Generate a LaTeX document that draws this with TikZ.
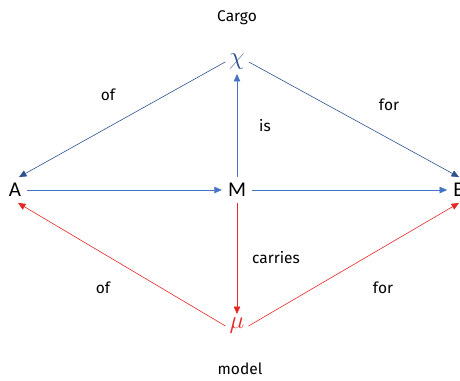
\documentclass[tikz,border=0pt]{standalone}
\usepackage{fontspec}
\setmainfont{Fira Sans}
\newfontfamily\letterfont{Carlito}
\usetikzlibrary{arrows.meta}
\definecolor{navyblue}{RGB}{47, 82, 143}
\definecolor{softblue}{RGB}{68, 114, 196}
\definecolor{modelred}{RGB}{232, 38, 38}

\begin{document}
\begin{tikzpicture}[x=1pt, y=1pt,
    letter/.style={font=\letterfont\fontsize{21}{25}\selectfont, inner sep=6pt},
    greek/.style={font=\fontsize{25}{30}\selectfont, inner sep=4pt},
    caption/.style={font=\fontsize{15.5}{18}\selectfont},
    link/.style={-{Triangle[length=7.5pt, width=6.5pt]}, line width=0.6pt}]
    \useasboundingbox (0, 0) rectangle (460, 380);

    % Vertices
    \node[letter] (a) at (15, 190) {A};
    \node[letter] (m) at (237, 190) {M};
    \node[letter] (b) at (459, 190) {B};
    \node[greek, text=navyblue] (chi) at (237, 318) {$\chi$};
    \node[greek, text=modelred] (mu) at (237, 54) {$\mu$};

    % Titles
    \node[caption] (cargo) at (237, 362) {Cargo};
    \node[caption] (model) at (240, 11) {model};

    % Upper half
    \draw[link, navyblue] (chi.west) -- ([xshift=4pt]a.north);
    \draw[link, navyblue] (chi.east) -- (b.north);
    \draw[link, softblue] (m) -- (chi);
    \draw[link, softblue] (a) -- (m);
    \draw[link, softblue] (m) -- (b);

    % Lower half
    \draw[link, modelred] (m) -- (mu);
    \draw[link, modelred] (mu.west) -- ([xshift=3pt]a.south);
    \draw[link, modelred] (mu.east) -- (b.south);

    % Edge labels
    \node[caption] (ofup) at (108, 285) {of};
    \node[caption] (forup) at (389, 275) {for};
    \node[caption] (is) at (265, 254) {is};
    \node[caption] (carries) at (276, 122) {carries};
    \node[caption] (ofdown) at (103, 92) {of};
    \node[caption] (fordown) at (383, 92) {for};
\end{tikzpicture}
\end{document}
